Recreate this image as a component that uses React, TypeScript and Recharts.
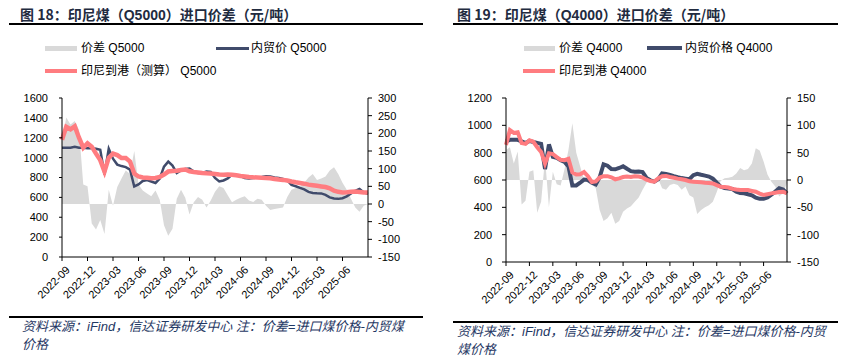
import React from 'react';
import { ComposedChart, Area, Line, XAxis, YAxis } from 'recharts';

// x axis: one tick per quarter, data every half month starting 2022-09
const quarterLabels = [
  '2022-09', '2022-12', '2023-03', '2023-06', '2023-09', '2023-12',
  '2024-03', '2024-06', '2024-09', '2024-12', '2025-03', '2025-06',
];

// Q5000 (元/吨)
const q5000Domestic = [
  1100, 1100, 1100, 1110, 1100, 1100, 1095, 1095, 1090, 1080,
  830, 1090, 990, 930, 915, 905, 880, 710, 730, 765,
  775, 760, 745, 790, 910, 960, 920, 845, 870, 885,
  890, 860, 845, 845, 860, 855, 795, 760, 770, 790,
  830, 825, 815, 795, 790, 795, 800, 805, 812, 810,
  800, 795, 785, 770, 725, 712, 695, 680, 655, 645,
  642, 640, 625, 600, 588, 585, 592, 610, 640, 665,
  685, 650, 635,
];
const q5000Import = [
  1180, 1310, 1285, 1315, 1200, 1100, 1145, 1110, 1040, 975,
  860, 1000, 1040, 1025, 995, 995, 960, 840, 810, 800,
  798, 792, 795, 805, 830, 860, 865, 868, 875, 880,
  862, 855, 850, 845, 842, 840, 835, 830, 828, 830,
  828, 822, 815, 810, 805, 802, 800, 797, 795, 792,
  785, 780, 776, 770, 760, 752, 745, 738, 728, 722,
  716, 710, 704, 692, 668, 656, 650, 652, 656, 658,
  655, 650, 648,
];
const q5000Spread = [
  180, 245, 225, 235, 210, 55, 50, -55, -72, -45,
  -85, 40, -5, 48, 72, 95, 85, 150, 55, 38,
  30, 22, 38, 12, -60, -90, -70, 15, 40, 18,
  -30, 5, 20, 12, -10, 10, 35, 50, 45, 25,
  5, 12, 18, 22, 10, 6, 15, 12, -5, -17,
  -14, -12, -10, 20, 40, 45, 50, 60, 75, 85,
  68, 72, 78, 95, 104, 85, 60, 40, 15, -10,
  -22, -5, 0,
];

// Q4000 (元/吨)
const q4000Domestic = [
  883, 894, 894, 894, 883, 870, 886, 878, 872, 865,
  680, 860, 770, 762, 745, 733, 700, 560, 560, 580,
  603, 600, 580, 568, 620, 715, 705, 680, 678, 688,
  700, 682, 665, 660, 662, 658, 615, 598, 588, 605,
  648, 645, 638, 628, 620, 614, 610, 606, 635, 645,
  638, 632, 625, 610, 580, 552, 542, 538, 534, 515,
  505, 503, 496, 488, 470, 462, 462, 472, 492, 515,
  540, 530, 502,
];
const q4000Import = [
  857, 965, 945, 950, 870, 865, 890, 880, 840, 805,
  720, 795, 790, 768, 748, 745, 755, 655, 640, 642,
  658, 628, 585, 590, 618, 628, 628, 620, 605, 612,
  622, 625, 622, 628, 625, 618, 602, 592, 588, 612,
  628, 630, 622, 616, 610, 606, 600, 590, 588, 586,
  583, 580, 578, 575, 562, 551, 548, 545, 535, 530,
  527, 527, 526, 520, 514, 500, 490, 496, 502, 507,
  512, 514, 502,
];
const q4000Spread = [
  55, 60, 30, 52, -45, -38, 15, 18, -60, -40,
  40, -50, 15, -8, -10, 20, 55, 104, 50, 25,
  0, -3, -8, -15, -55, -75, -70, -60, -80, -75,
  -58, -52, -48, -40, -32, -18, -5, 2, -3, 2,
  -15, -18, -9, -7, -9, -18, -12, -28, -32, -62,
  -55, -50, -46, -40, -22, -2, 3, 4, 6, 12,
  22, 18, 20, 30, 58, 54, 34, 10, -3, -12,
  -30, -24, -5,
];

const left5000Ticks = [0, 200, 400, 600, 800, 1000, 1200, 1400, 1600];
const right5000Ticks = [-150, -100, -50, 0, 50, 100, 150, 200, 250, 300];
const left4000Ticks = [0, 200, 400, 600, 800, 1000, 1200];
const right4000Ticks = [-150, -100, -50, 0, 50, 100, 150];

const NAVY = '#404B6B';
const PINK = '#FF7C80';
const GREY = '#D9D9D9';
const FONT = '"Liberation Sans", Arial, "Noto Sans CJK SC", sans-serif';

const xTicks = quarterLabels.map((_, i) => i * 3);

const buildRows = (domestic: number[], imported: number[], spread: number[]) =>
  domestic.map((v, i) => ({ t: i / 2, domestic: v, imported: imported[i], spread: spread[i] }));

const rows5000 = buildRows(q5000Domestic, q5000Import, q5000Spread);
const rows4000 = buildRows(q4000Domestic, q4000Import, q4000Spread);

const tickStyle = { fill: '#000', fontSize: 11, fontFamily: FONT };

const XTick = (props: any) => {
  const { x, y, payload } = props;
  const label = quarterLabels[Math.round(payload.value / 3)];
  return (
    <text
      x={x + 3}
      y={y + 2}
      transform={`rotate(-45 ${x + 3} ${y + 2})`}
      textAnchor="end"
      dominantBaseline="hanging"
      fill="#000"
      fontSize={11}
      fontFamily={FONT}
    >
      {label}
    </text>
  );
};

const Swatch = ({ x, y, w, h, color }: { x: number; y: number; w: number; h: number; color: string }) => (
  <div style={{ position: 'absolute', left: x, top: y - h / 2, width: w, height: h, background: color }} />
);

const Label = ({ x, y, children }: { x: number; y: number; children: React.ReactNode }) => (
  <div style={{ position: 'absolute', left: x, top: y - 9, fontSize: 12, lineHeight: '18px', color: '#000', whiteSpace: 'pre' }}>
    {children}
  </div>
);

const Title = ({ x, num, grade }: { x: number; num: string; grade: string }) => (
  <div
    style={{
      position: 'absolute', left: x, top: 5, fontSize: 14, lineHeight: '18px',
      color: '#222B3F', fontWeight: 700, whiteSpace: 'pre', fontFamily: '"Noto Sans CJK SC", sans-serif',
    }}
  >
    {`图 ${num}：印尼煤（`}
    <span style={{ fontFamily: FONT }}>{grade}</span>
    {'）进口价差（元/吨）'}
  </div>
);

const Rule = ({ x, y, w }: { x: number; y: number; w: number }) => (
  <div style={{ position: 'absolute', left: x, top: y, width: w, height: 2, background: '#000' }} />
);

const Footer = ({ x, y, lines }: { x: number; y: number; lines: string[] }) => (
  <div
    style={{
      position: 'absolute', left: x, top: y, fontSize: 13, lineHeight: '18px',
      color: '#1F3864', fontStyle: 'italic', whiteSpace: 'pre',
    }}
  >
    {lines.map((l) => (
      <div key={l}>{l}</div>
    ))}
  </div>
);

export default function App() {
  return (
    <div
      style={{
        position: 'absolute', left: 0, top: 0, width: 848, height: 358,
        background: '#fff', fontFamily: FONT, overflow: 'hidden',
      }}
    >
      {/* left panel: Q5000 */}
      <Title x={20} num="18" grade="Q5000" />
      <Rule x={9} y={23} w={414} />
      <Swatch x={45} y={48} w={32} h={5} color={GREY} />
      <Label x={81} y={48}>价差 Q5000</Label>
      <Swatch x={216} y={48} w={33} h={3} color={NAVY} />
      <Label x={251} y={48}>内贸价 Q5000</Label>
      <Swatch x={45} y={71} w={32} h={4} color={PINK} />
      <Label x={81} y={71}>印尼到港（测算） Q5000</Label>

      <div style={{ position: 'absolute', left: 0, top: 88 }}>
        <ComposedChart width={424} height={240} data={rows5000} margin={{ top: 10, right: 6, bottom: 11, left: 22 }}>
          <XAxis
            dataKey="t" type="number" domain={[0, 36]} ticks={xTicks} interval={0}
            tick={<XTick />} tickSize={4} height={60} stroke="#000" yAxisId="left"
          />
          <YAxis
            yAxisId="left" domain={[0, 1600]} ticks={left5000Ticks} interval={0} width={40}
            tick={tickStyle} tickSize={3} tickMargin={11} stroke="#000"
          />
          <YAxis
            yAxisId="right" orientation="right" domain={[-150, 300]} ticks={right5000Ticks} interval={0} width={50}
            tick={{ ...tickStyle, textAnchor: 'start' }} tickSize={4} tickMargin={6} stroke="#000"
          />
          <Area
            yAxisId="right" dataKey="spread" type="linear" fill={GREY} fillOpacity={1}
            stroke="none" baseValue={0} isAnimationActive={false}
          />
          <Line yAxisId="left" dataKey="domestic" type="linear" stroke={NAVY} strokeWidth={2.5} dot={false} isAnimationActive={false} />
          <Line yAxisId="left" dataKey="imported" type="linear" stroke={PINK} strokeWidth={4.5} dot={false} isAnimationActive={false} />
        </ComposedChart>
      </div>

      <Rule x={9} y={316} w={414} />
      <Footer x={22} y={318} lines={['资料来源：iFind，信达证券研发中心 注：价差=进口煤价格-内贸煤', '价格']} />

      {/* right panel: Q4000 */}
      <Title x={457} num="19" grade="Q4000" />
      <Rule x={453} y={23} w={385} />
      <Swatch x={524} y={48} w={31} h={5} color={GREY} />
      <Label x={559} y={48}>价差 Q4000</Label>
      <Swatch x={647} y={48} w={35} h={4} color={NAVY} />
      <Label x={685} y={48}>内贸价格 Q4000</Label>
      <Swatch x={523} y={71} w={32} h={4} color={PINK} />
      <Label x={559} y={71}>印尼到港 Q4000</Label>

      <div style={{ position: 'absolute', left: 424, top: 88 }}>
        <ComposedChart width={424} height={240} data={rows4000} margin={{ top: 10, right: 11, bottom: 11, left: 42 }}>
          <XAxis
            dataKey="t" type="number" domain={[0, 36]} ticks={xTicks} interval={0}
            tick={<XTick />} tickSize={4} height={55} stroke="#000" yAxisId="left"
          />
          <YAxis
            yAxisId="left" domain={[0, 1200]} ticks={left4000Ticks} interval={0} width={40}
            tick={tickStyle} tickSize={4} tickMargin={10} stroke="#000"
          />
          <YAxis
            yAxisId="right" orientation="right" domain={[-150, 150]} ticks={right4000Ticks} interval={0} width={50}
            tick={{ ...tickStyle, textAnchor: 'start' }} tickSize={4} tickMargin={6} stroke="#000"
          />
          <Area
            yAxisId="right" dataKey="spread" type="linear" fill={GREY} fillOpacity={1}
            stroke="none" baseValue={0} isAnimationActive={false}
          />
          <Line yAxisId="left" dataKey="domestic" type="linear" stroke={NAVY} strokeWidth={4} dot={false} isAnimationActive={false} />
          <Line yAxisId="left" dataKey="imported" type="linear" stroke={PINK} strokeWidth={4} dot={false} isAnimationActive={false} />
        </ComposedChart>
      </div>

      <Rule x={453} y={321} w={385} />
      <Footer x={457} y={323} lines={['资料来源：iFind，信达证券研发中心 注：价差=进口煤价格-内贸', '煤价格']} />
    </div>
  );
}
